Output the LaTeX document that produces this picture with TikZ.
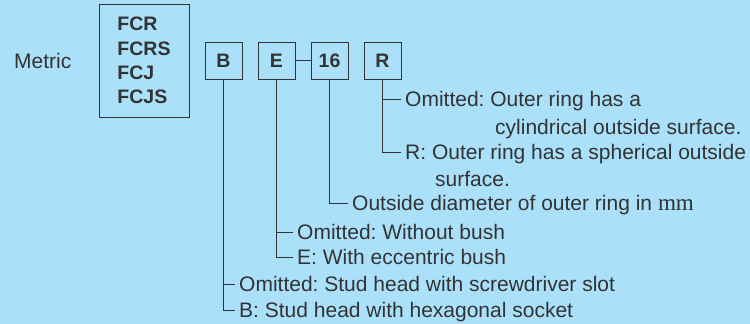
\documentclass[tikz,border=0pt]{standalone}
\usepackage[no-math]{fontspec}
\setmainfont{Liberation Sans}
\newfontfamily\mmfont[Scale=1.1]{Liberation Serif}
\frenchspacing
\definecolor{bg}{RGB}{170,224,250}
\definecolor{ink}{RGB}{51,51,51}
\tikzset{
  lbl/.style={anchor=west, inner xsep=4pt, inner ysep=0pt, text height=15pt, text depth=0pt,
    font=\fontsize{21}{25}\selectfont, text=ink},
  codebox/.style={draw=ink, line width=0.9pt, minimum width=37pt, minimum height=37pt,
    inner sep=0pt, font=\bfseries\fontsize{19.5}{24}\selectfont, text=ink},
  conn/.style={draw=ink, line width=0.9pt}
}
\begin{document}
\begin{tikzpicture}[x=1pt,y=-1pt]
\fill[bg] (0,0) rectangle (750,324);
\useasboundingbox (0,0) rectangle (750,324);

\node[lbl, inner xsep=0pt] (metric) at (14,60.5) {Metric};
\node[draw=ink, line width=0.9pt, minimum width=90pt, minimum height=113pt, inner sep=0pt,
  align=left, text=ink, font=\bfseries\fontsize{19.5}{24.3}\selectfont] (series) at (144,60.5)
  {FCR\\FCRS\\FCJ\\FCJS};

\node[codebox] (B) at (223.5,60.5) {B};
\node[codebox] (E) at (276.5,60.5) {E};
\node[codebox] (N16) at (329.5,60.5) {16};
\node[codebox] (R) at (382.5,60.5) {R};

\node[lbl] (r1) at (401,99) {Omitted: Outer ring has a};
\node[lbl] (r1b) at (491,127) {cylindrical outside surface.};
\node[lbl] (r2) at (401,152) {R: Outer ring has a spherical outside};
\node[lbl] (r2b) at (431,179) {surface.};
\node[lbl] (d) at (348,203) {Outside diameter of outer ring in {\mmfont mm}};
\node[lbl] (e1) at (293,232) {Omitted: Without bush};
\node[lbl] (e2) at (293,257) {E: With eccentric bush};
\node[lbl] (b1) at (235,284) {Omitted: Stud head with screwdriver slot};
\node[lbl] (b2) at (235,310) {B: Stud head with hexagonal socket};

\draw[conn] (E.east) -- (N16.west);
\draw[conn] (R.south) |- (r2.west);
\draw[conn] (R.south |- r1.west) -- (r1.west);
\draw[conn] (N16.south) |- (d.west);
\draw[conn] (E.south) |- (e2.west);
\draw[conn] (E.south |- e1.west) -- (e1.west);
\draw[conn] (B.south) |- (b2.west);
\draw[conn] (B.south |- b1.west) -- (b1.west);
\end{tikzpicture}
\end{document}
